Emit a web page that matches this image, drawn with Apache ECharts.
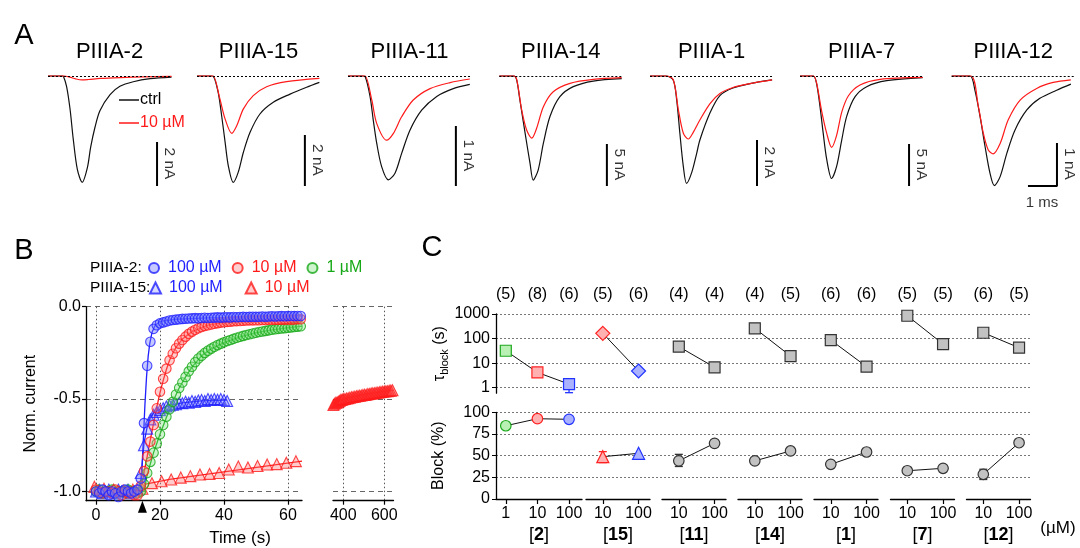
<!DOCTYPE html>
<html><head><meta charset="utf-8">
<script src="https://cdn.jsdelivr.net/npm/echarts@6/dist/echarts.min.js"></script>
<style>html,body{margin:0;padding:0;background:#fff}#c{width:1080px;height:548px}</style>
</head><body><div id="c"></div>
<script>
// ================= DATA =================
// Panel A: current traces, [time (ms), current (nA)]
const aTitles = ['PIIIA-2','PIIIA-15','PIIIA-11','PIIIA-14','PIIIA-1','PIIIA-7','PIIIA-12'];
const aScaleNA = [2,2,1,5,2,5,1];
const aScaleMs = 1;
const ctrl1 = [[0,0],[0.5,0],[0.53,-0.01],[0.64,-0.47],[0.76,-1.5],[0.87,-2.86],[1.01,-4.23],[1.18,-4.83],[1.36,-4.15],[1.47,-3.24],[1.62,-2.33],[1.79,-1.58],[2.14,-0.85],[2.48,-0.47],[2.94,-0.26],[3.52,-0.12],[4.26,-0.05]];
const blk1  = [[0,0],[0.55,0],[0.75,-0.05],[0.95,-0.13],[1.17,-0.18],[1.4,-0.16],[1.8,-0.11],[2.5,-0.07],[3.3,-0.04],[4.26,-0.02]];
const ctrl2 = [[0,0],[0.5,0],[0.56,-0.01],[0.73,-0.64],[0.85,-1.56],[0.97,-2.6],[1.08,-3.52],[1.25,-4.17],[1.42,-3.78],[1.6,-2.99],[1.83,-2.21],[2.17,-1.49],[2.63,-1.03],[3.21,-0.71],[3.78,-0.44],[4.22,-0.25]];
const blk2  = [[0,0],[0.5,0],[0.56,0],[0.79,-0.9],[0.97,-1.69],[1.2,-2.25],[1.37,-1.95],[1.6,-1.29],[1.94,-0.77],[2.4,-0.42],[3.09,-0.22],[4.22,-0.09]];
const ctrl3 = [[0,0],[0.5,0],[0.59,-0.01],[0.76,-0.34],[0.87,-0.73],[0.99,-1.12],[1.16,-1.51],[1.39,-1.73],[1.62,-1.62],[1.85,-1.29],[2.14,-0.9],[2.54,-0.57],[3.06,-0.34],[3.63,-0.21],[4.2,-0.14]];
const blk3  = [[0,0],[0.5,0],[0.59,0],[0.82,-0.4],[0.99,-0.79],[1.33,-1.07],[1.56,-0.96],[1.85,-0.68],[2.25,-0.4],[2.83,-0.21],[3.52,-0.11],[4.2,-0.05]];
const ctrl4 = [[0,0],[0.5,0],[0.6,-0.48],[0.71,-2.86],[0.89,-6.8],[1.06,-10.4],[1.17,-12.4],[1.34,-11.2],[1.52,-8.0],[1.75,-4.8],[2.09,-2.46],[2.55,-1.27],[3.24,-0.6],[4.22,-0.32]];
const blk4  = [[0,0],[0.5,0],[0.6,-0.4],[0.77,-4.0],[0.94,-6.4],[1.12,-7.4],[1.29,-6.2],[1.52,-3.65],[1.86,-1.87],[2.44,-0.87],[3.24,-0.4],[4.22,-0.2]];
const ctrl5 = [[0,0],[0.55,0],[0.8,-0.17],[0.92,-1.04],[1.03,-2.49],[1.15,-3.94],[1.26,-4.67],[1.44,-4.19],[1.61,-3.36],[1.72,-2.78],[2.07,-1.6],[2.41,-0.85],[2.86,-0.52],[3.45,-0.33],[4.21,-0.17]];
const blk5  = [[0,0],[0.55,0],[0.8,-0.15],[0.98,-1.48],[1.15,-2.49],[1.32,-2.74],[1.49,-2.45],[1.72,-1.91],[2.07,-1.2],[2.41,-0.76],[2.86,-0.5],[3.45,-0.33],[4.21,-0.17]];
const ctrl6 = [[0,0],[0.46,0],[0.57,-0.87],[0.69,-3.65],[0.8,-6.8],[0.92,-9.9],[1.09,-12.2],[1.26,-10.8],[1.44,-7.6],[1.61,-4.8],[1.9,-2.46],[2.3,-1.27],[2.99,-0.56],[4.23,-0.2]];
const blk6  = [[0,0],[0.46,0],[0.57,-0.8],[0.74,-4.05],[0.92,-6.8],[1.09,-8.5],[1.26,-7.1],[1.44,-4.3],[1.67,-2.35],[2.07,-1.07],[2.76,-0.4],[4.23,-0.17]];
const ctrl7 = [[0,0],[0.63,0],[0.8,-0.33],[0.98,-0.95],[1.15,-1.64],[1.32,-2.26],[1.47,-2.55],[1.67,-2.34],[1.9,-1.8],[2.18,-1.26],[2.59,-0.79],[3.04,-0.52],[3.62,-0.33],[4.11,-0.19]];
const blk7  = [[0,0],[0.66,0],[0.92,-0.71],[1.09,-1.33],[1.26,-1.72],[1.43,-1.81],[1.67,-1.57],[1.95,-1.02],[2.36,-0.56],[2.93,-0.29],[3.5,-0.15],[4.11,-0.09]];

// Panel B: normalized current vs time (s)
const tSec = [0,1,2,3,4,5,6,7,8,9,10,11,12,13,14,15,16,17,18,19,20,21,22,23,24,25,26,27,28,29,30,31,32,33,34,35,36,37,38,39,40,41,42,43,44,45,46,47,48,49,50,51,52,53,54,55,56,57,58,59,60,61,62,63,64];
const p2_100 = [-1.00,-1.01,-0.99,-1.00,-1.02,-1.00,-1.01,-1.03,-1.00,-0.99,-1.00,-1.01,-1.00,-0.99,
 -0.93,-0.63,-0.32,-0.19,-0.12,-0.10,-0.09,-0.085,-0.08,-0.075,-0.072,-0.07,-0.068,-0.066,-0.065,-0.064,-0.063,-0.062,-0.063,-0.061,-0.06,-0.061,-0.06,-0.059,-0.058,-0.059,-0.058,-0.057,-0.058,-0.056,-0.057,-0.056,-0.055,-0.056,-0.055,-0.054,-0.055,-0.054,-0.053,-0.054,-0.053,-0.052,-0.053,-0.052,-0.051,-0.052,-0.051,-0.05,-0.051,-0.05,-0.05];
const p2_10 = [-0.99,-1.00,-1.01,-1.00,-1.00,-1.01,-0.99,-1.00,-1.02,-1.00,-1.01,-1.00,-1.02,-1.02,
 -0.97,-0.89,-0.81,-0.73,-0.64,-0.55,-0.46,-0.39,-0.335,-0.29,-0.255,-0.225,-0.2,-0.18,-0.162,-0.147,-0.135,-0.125,-0.117,-0.11,-0.104,-0.1,-0.096,-0.092,-0.089,-0.086,-0.084,-0.082,-0.081,-0.079,-0.078,-0.077,-0.076,-0.075,-0.074,-0.074,-0.073,-0.073,-0.072,-0.072,-0.071,-0.071,-0.07,-0.071,-0.07,-0.07,-0.069,-0.07,-0.069,-0.068,-0.068];
const p2_1 = [-1.00,-0.99,-1.01,-1.00,-1.00,-0.99,-1.01,-1.00,-1.00,-1.01,-0.99,-1.00,-1.00,-1.01,-1.00,
 -0.96,-0.90,-0.84,-0.79,-0.74,-0.69,-0.64,-0.595,-0.555,-0.515,-0.475,-0.44,-0.41,-0.38,-0.35,-0.325,-0.30,-0.28,-0.265,-0.25,-0.238,-0.227,-0.217,-0.208,-0.2,-0.193,-0.186,-0.18,-0.174,-0.168,-0.163,-0.158,-0.153,-0.149,-0.145,-0.141,-0.137,-0.134,-0.131,-0.128,-0.125,-0.122,-0.12,-0.118,-0.116,-0.114,-0.112,-0.11,-0.108,-0.106];
const p15_100 = [-1.00,-0.99,-1.01,-1.00,-0.99,-1.00,-1.01,-0.99,-1.00,-1.00,-0.99,-1.01,-1.00,-0.99,
 -0.90,-0.75,-0.66,-0.61,-0.585,-0.57,-0.56,-0.55,-0.54,-0.535,-0.53,-0.528,-0.52,-0.522,-0.515,-0.52,-0.51,-0.515,-0.508,-0.505,-0.51,-0.50,-0.505,-0.50,-0.503,-0.50,-0.505,-0.51];
const t15_10 = [-0.5,2.5,5.5,8.5,11.5,14.5,17.5,20.5,23.5,26.5,29.5,32.5,35.5,38.5,41.5,44.5,47.5,50.5,53.5,56.5,59.5,62.5];
const p15_10 = [-0.975,-0.985,-0.99,-0.995,-0.99,-0.985,-0.955,-0.945,-0.935,-0.925,-0.917,-0.908,-0.905,-0.9,-0.881,-0.865,-0.87,-0.862,-0.854,-0.852,-0.845,-0.836];
const tLate = [352,358,364,370,376,382,388,394,400,408,416,424,432,440,448,456,464,472,480,488,496,504,512,520,528,536,544,552,560,568,576,584,592,600,608,616,624,632,640];
const p15_10late = [-0.532,-0.525,-0.52,-0.518,-0.514,-0.51,-0.505,-0.503,-0.5,-0.499,-0.497,-0.495,-0.493,-0.49,-0.489,-0.487,-0.485,-0.483,-0.482,-0.48,-0.478,-0.477,-0.476,-0.473,-0.472,-0.47,-0.469,-0.468,-0.466,-0.465,-0.463,-0.462,-0.46,-0.459,-0.458,-0.457,-0.455,-0.454,-0.452];
// fitted curves
const fit2_100 = [[-0.5,-1.0],[13.8,-1.0],[14.3,-0.9],[14.8,-0.72],[15.3,-0.53],[15.8,-0.38],[16.3,-0.27],[16.8,-0.2],[17.5,-0.14],[18.5,-0.1],[20,-0.08],[25,-0.068],[35,-0.06],[50,-0.055],[64.4,-0.05]];
const fit2_10 = [[-0.5,-1.0],[14,-1.0],[15,-0.9],[16,-0.81],[17,-0.72],[18,-0.63],[19,-0.545],[20,-0.465],[21,-0.4],[22,-0.34],[23,-0.29],[24,-0.252],[25,-0.22],[27,-0.175],[30,-0.135],[35,-0.1],[40,-0.085],[50,-0.074],[64.4,-0.069]];
const fit2_1 = [[-0.5,-1.0],[15,-1.0],[16,-0.91],[18,-0.79],[20,-0.69],[22,-0.6],[24,-0.515],[26,-0.44],[28,-0.38],[30,-0.327],[33,-0.266],[36,-0.228],[40,-0.194],[45,-0.163],[50,-0.141],[55,-0.125],[60,-0.114],[64.4,-0.105]];
const fit15_100 = [[-0.5,-1.0],[13.8,-1.0],[14.3,-0.88],[15,-0.74],[16,-0.65],[17,-0.6],[18,-0.575],[20,-0.555],[23,-0.535],[27,-0.52],[33,-0.51],[41,-0.505]];
const fit15_10 = [[-0.5,-1.0],[14.3,-1.0],[15.5,-0.96],[23,-0.935],[64.4,-0.836]];
const fit15_10late = [[350,-0.525],[400,-0.5],[500,-0.475],[645,-0.452]];
const drugOnset = 14.5;
const bYTicks = [-1,-0.5,0];
const bXTicks = [0,20,40,60];
const bXTicksLate = [400,600];

// Panel C
const groupNames = ['2','15','11','14','1','7','12'];
const groupConc = [[1,10,100],[10,100],[10,100],[10,100],[10,100],[10,100],[10,100]];
const groupN = [[5,8,6],[5,6],[4,4],[4,5],[6,6],[5,5],[6,5]];
const tauMean = [[32,4.2,1.41],[164,4.8],[47,6.8],[262,19.5],[87,7.2],[850,60],[173,42.6]];
const tauLo = [[null,null,0.63],[null,null],[null,null],[null,null],[null,null],[null,null],[null,null]];
const tauHi = [[null,null,2.2],[null,null],[null,null],[null,null],[null,null],[null,null],[null,null]];
const blockMean = [[84.5,92.6,91.9],[48.8,52.7],[44,64.2],[44,55.4],[40,54.2],[32.6,35.4],[28.5,64.9]];
const blockLo = [[null,null,null],[42,null],[37.5,null],[null,null],[null,null],[null,null],[22.5,null]];
const blockHi = [[null,null,null],[54.6,null],[51.5,null],[null,null],[null,null],[null,null],[34.3,null]];
const tauTicks = [1,10,100,1000];

// ================= STYLE / LAYOUT =================
const FONT = '"Liberation Sans", Arial, Helvetica, sans-serif';
const RED = '#ff1a1a', BLUE = '#1f1fff', GREEN = '#16a816';
const aLeft = [48,197,348,499.3,650,800,951.7];
const aPxPerNA = [22,25.5,60,8.4,23,8.4,43];
const aBarT = [3.76,3.72,3.72,3.71,3.69,3.76,3.63];
const A_TOP = 70, A_BASE = 76, A_BOTTOM = 186, A_PXMS = 29, A_TMAX = 4.27;
const ctrlTr = [ctrl1,ctrl2,ctrl3,ctrl4,ctrl5,ctrl6,ctrl7];
const blkTr = [blk1,blk2,blk3,blk4,blk5,blk6,blk7];

const grids = [], xAxes = [], yAxes = [], series = [];
function addGrid(g, x, y) { grids.push(Object.assign({outerBoundsMode:'none', containLabel:false}, g)); const i = grids.length-1; xAxes.push(Object.assign({gridIndex:i}, x)); yAxes.push(Object.assign({gridIndex:i}, y)); return i; }
const txt = (o) => Object.assign({fontFamily: FONT, color:'#000'}, o);

// ---------- Panel A ----------
for (let i = 0; i < 7; i++) {
  const s = aPxPerNA[i];
  const yMin = -(A_BOTTOM - A_BASE) / s, yMax = (A_BASE - A_TOP) / s;
  const gi = addGrid({left: aLeft[i], top: A_TOP, width: A_TMAX * A_PXMS, height: A_BOTTOM - A_TOP},
    {type:'value', min:0, max:A_TMAX, show:false},
    {type:'value', min:yMin, max:yMax, show:false});
  series.push({type:'line', name:'ctrl', xAxisIndex:gi, yAxisIndex:gi, data: ctrlTr[i], smooth:0.3, symbol:'none',
    lineStyle:{color:'#111', width:1.2}, itemStyle:{color:'#111'}, z:3, silent:true,
    markLine:{silent:true, symbol:'none', label:{show:false}, lineStyle:{color:'#000', type:[2,2], width:1}, data:[{yAxis:0}]}});
  series.push({type:'line', name:'10 µM', xAxisIndex:gi, yAxisIndex:gi, data: blkTr[i], smooth:0.3, symbol:'none',
    lineStyle:{color:RED, width:1.2}, itemStyle:{color:RED}, z:4, silent:true});
  const bt = aBarT[i];
  const barData = i === 6 ? [[bt - aScaleMs, yMin],[bt, yMin],[bt, yMin + aScaleNA[i]]] : [[bt, yMin],[bt, yMin + aScaleNA[i]]];
  series.push({type:'line', xAxisIndex:gi, yAxisIndex:gi, data: barData, symbol:'none', clip:false, silent:true,
    lineStyle:{color:'#000', width:2}});
  series.push({type:'scatter', xAxisIndex:gi, yAxisIndex:gi, data:[[bt, yMin + aScaleNA[i]/2]], symbolSize:1, silent:true,
    itemStyle:{color:'transparent'}, clip:false,
    label:{show:true, formatter: aScaleNA[i] + ' nA', position:[13,0], rotate:-90, align:'center', verticalAlign:'middle', fontSize:15.5, fontFamily:FONT, color:'#000'}});
  if (i === 6) {
    series.push({type:'scatter', xAxisIndex:gi, yAxisIndex:gi, data:[[bt - aScaleMs/2, yMin]], symbolSize:1, silent:true,
      itemStyle:{color:'transparent'}, clip:false,
      label:{show:true, formatter: aScaleMs + ' ms', position:[0,17], align:'center', verticalAlign:'middle', fontSize:15, fontFamily:FONT, color:'#000'}});
  }
}

// ---------- Panel B ----------
const bAxisLine = {show:true, onZero:false, lineStyle:{color:'#000', width:1.3}};
const bTick = (vals) => ({show:true, length:4, customValues: vals, lineStyle:{color:'#000', width:1.2}});
const bVSplit = {show:true, lineStyle:{color:'#555', type:[1.5,2.5], width:1}};
const gB1 = addGrid({left:86, top:306.7, width:216, height:194},
  {type:'value', min:-3.125, max:64.4, axisLine:bAxisLine, axisTick:bTick(bXTicks),
   axisLabel:{customValues:bXTicks, fontSize:16, fontFamily:FONT, color:'#000', margin:7},
   splitLine:bVSplit},
  {type:'value', min:-1.05, max:0, axisLine:bAxisLine, axisTick:bTick(bYTicks),
   axisLabel:{customValues:bYTicks, formatter: v => v.toFixed(1), fontSize:16, fontFamily:FONT, color:'#000', margin:5},
   splitLine:{show:true, lineStyle:{color:'#666', type:[5,4], width:1}},
   name:'Norm. current', nameLocation:'middle', nameGap:47, nameTextStyle: txt({fontSize:16})});
const gB2 = addGrid({left:333, top:306.7, width:60.5, height:194},
  {type:'value', min:350, max:645, axisLine:bAxisLine, axisTick:bTick(bXTicksLate),
   axisLabel:{customValues:bXTicksLate, fontSize:16, fontFamily:FONT, color:'#000', margin:7},
   splitLine:bVSplit},
  {type:'value', min:-1.05, max:0, axisLine:{show:false, onZero:false}, axisTick:{show:false, customValues:bYTicks}, axisLabel:{show:false},
   splitLine:{show:true, lineStyle:{color:'#666', type:[5,4], width:1}}});

const fitLine = (data, color, gi, extra) => Object.assign({type:'line', xAxisIndex:gi, yAxisIndex:gi, data, symbol:'none', silent:true,
  lineStyle:{color, width:1.3}, itemStyle:{color}, z:3}, extra || {});
series.push(fitLine(fit15_10, RED, gB1, {markPoint:{silent:true, symbol:'triangle', symbolSize:[9,12], label:{show:false},
  itemStyle:{color:'#000'}, data:[{coord:[drugOnset, -1.05], symbolOffset:[0,6]}]}}));
series.push(fitLine(fit15_100, BLUE, gB1));
series.push(fitLine(fit2_1, GREEN, gB1));
series.push(fitLine(fit2_10, RED, gB1));
series.push(fitLine(fit2_100, BLUE, gB1));
series.push(fitLine(fit15_10late, RED, gB2));
const zipT = (t, v) => v.map((y, k) => [t[k], y]);
const scat = (name, data, sym, size, color, fill, gi) => ({type:'scatter', name, xAxisIndex:gi, yAxisIndex:gi, data, symbol:sym, symbolSize:size,
  itemStyle:{color:fill, borderColor:color, borderWidth:1.1}, z:5, silent:true});
series.push(scat('PIIIA-15 10 µM', zipT(t15_10, p15_10), 'triangle', 11, RED, 'rgba(255,110,110,0.45)', gB1));
series.push(scat('PIIIA-15 100 µM', zipT(tSec, p15_100), 'triangle', 11, BLUE, 'rgba(110,120,255,0.35)', gB1));
series.push(scat('PIIIA-2 1 µM', zipT(tSec, p2_1), 'circle', 9.5, GREEN, 'rgba(120,225,120,0.45)', gB1));
series.push(scat('PIIIA-2 10 µM', zipT(tSec, p2_10), 'circle', 9.5, RED, 'rgba(255,120,120,0.45)', gB1));
series.push(scat('PIIIA-2 100 µM', zipT(tSec, p2_100), 'circle', 9.5, BLUE, 'rgba(110,120,255,0.5)', gB1));
series.push(scat('PIIIA-15 10 µM late', zipT(tLate, p15_10late), 'triangle', 11, RED, 'rgba(255,60,60,0.6)', gB2));

// ---------- Panel C ----------
const C_LEFT = 496, C_RIGHT = 1030;
const C_TOP1 = 314, C_H1 = 79.2, C_TOP2 = 412.3, C_H2 = 86.7;
const tauMin = Math.log10(0.6), tauMax = Math.log10(1000);
const cAxisLine = {show:true, onZero:false, lineStyle:{color:'#000', width:1.3}};
const cGridLine = {show:true, lineStyle:{color:'#777', type:[2,2], width:1}};
const tauTickLog = tauTicks.map(v => Math.log10(v));
addGrid({left:C_LEFT, top:C_TOP1, width:C_RIGHT-C_LEFT, height:C_H1},
  {type:'value', min:0, max:1, show:false},
  {type:'value', min:tauMin, max:tauMax, axisLine:cAxisLine, axisTick:{show:true, length:4, customValues:tauTickLog, lineStyle:{color:'#000'}},
   axisLabel:{customValues:tauTickLog, formatter: v => String(Math.round(Math.pow(10, v))), fontSize:16, fontFamily:FONT, color:'#000', margin:6},
   splitLine:cGridLine,
   name:'{t|τ}{s|block}{t| (s)}', nameLocation:'middle', nameGap:42,
   nameTextStyle:{rich:{t:{fontSize:16, fontFamily:FONT, color:'#000', lineHeight:22, verticalAlign:'middle'}, s:{fontSize:11, fontFamily:FONT, color:'#000', lineHeight:12, verticalAlign:'bottom'}}}});
addGrid({left:C_LEFT, top:C_TOP2, width:C_RIGHT-C_LEFT, height:C_H2},
  {type:'value', min:0, max:1, show:false},
  {type:'value', min:0, max:100, interval:25, axisLine:cAxisLine, axisTick:{show:true, length:4, lineStyle:{color:'#000'}},
   axisLabel:{fontSize:16, fontFamily:FONT, color:'#000', margin:6},
   splitLine:Object.assign({showMinLine:false}, cGridLine),
   name:'Block (%)', nameLocation:'middle', nameGap:49, nameTextStyle: txt({fontSize:16})});

const cGroupLeft = [496, 586, 662, 738, 814, 890.5, 966.5];
const cGroupWidth = [86, 64, 64, 64, 64, 64, 64];
const cGroupMin = [-0.31, 0.53, 0.53, 0.53, 0.53, 0.53, 0.53];
const cGroupMax = [2.41, 2.32, 2.32, 2.32, 2.32, 2.32, 2.32];
const cStyle = {
  green:{fill:'#b9f0b4', border:'#1fa81f'}, red:{fill:'#ffb0b0', border:'#ff2222'},
  blue:{fill:'#aab2ff', border:'#2233ff'}, gray:{fill:'#c2c2c2', border:'#333'}
};
function markerKey(g, c) {
  if (g === 0) return c === 1 ? 'green' : (c === 10 ? 'red' : 'blue');
  if (g === 1) return c === 10 ? 'red' : 'blue';
  return 'gray';
}
function errSeries(gi, x, lo, hi, color) {
  return {type:'custom', xAxisIndex:gi, yAxisIndex:gi, data:[[x, lo, hi]], z:3, silent:true, clip:false,
    renderItem: (params, api) => {
      const p1 = api.coord([api.value(0), api.value(1)]), p2 = api.coord([api.value(0), api.value(2)]);
      const w = 4, st = {stroke: color, lineWidth: 1.3};
      return {type:'group', children:[
        {type:'line', shape:{x1:p1[0], y1:p1[1], x2:p2[0], y2:p2[1]}, style:st},
        {type:'line', shape:{x1:p1[0]-w, y1:p1[1], x2:p1[0]+w, y2:p1[1]}, style:st},
        {type:'line', shape:{x1:p2[0]-w, y1:p2[1], x2:p2[0]+w, y2:p2[1]}, style:st}]};
    }};
}
for (let g = 0; g < 7; g++) {
  const concLog = groupConc[g].map(c => Math.log10(c));
  const nLabel = v => { const k = concLog.findIndex(c => Math.abs(c - v) < 1e-6); return k < 0 ? '' : '(' + groupN[g][k] + ')'; };
  const gTop = addGrid({left:cGroupLeft[g], top:C_TOP1, width:cGroupWidth[g], height:C_H1},
    {type:'value', min:cGroupMin[g], max:cGroupMax[g], position:'top', axisLine:{show:false, onZero:false}, axisTick:{show:false, customValues:concLog},
     axisLabel:{customValues:concLog, formatter:nLabel, fontSize:16, fontFamily:FONT, color:'#000', margin:11}, splitLine:{show:false}},
    {type:'value', min:tauMin, max:tauMax, show:false});
  const gBot = addGrid({left:cGroupLeft[g], top:C_TOP2, width:cGroupWidth[g], height:C_H2},
    {type:'value', min:cGroupMin[g], max:cGroupMax[g], axisLine:cAxisLine, axisTick:{show:true, length:5, customValues:concLog, lineStyle:{color:'#000', width:1.2}},
     axisLabel:{customValues:concLog, formatter: v => String(Math.round(Math.pow(10, v))), fontSize:16, fontFamily:FONT, color:'#000', margin:7},
     splitLine:{show:false},
     name:'{a|[}{b|' + groupNames[g] + '}{a|]}', nameLocation:'middle', nameGap:27,
     nameTextStyle:{rich:{a:{fontSize:18, fontFamily:FONT, color:'#000'}, b:{fontSize:18, fontFamily:FONT, fontWeight:'bold', color:'#000'}}}},
    {type:'value', min:0, max:100, show:false});
  const topSym = g === 1 ? 'diamond' : 'rect';
  const botSym = g === 1 ? 'triangle' : 'circle';
  series.push({type:'line', xAxisIndex:gTop, yAxisIndex:gTop, silent:true, z:5, lineStyle:{color:'#111', width:1},
    data: groupConc[g].map((c, k) => { const st = cStyle[markerKey(g, c)];
      return {value:[concLog[k], Math.log10(tauMean[g][k])], symbol:topSym, symbolSize: g === 1 ? 14 : 11,
        itemStyle:{color:st.fill, borderColor:st.border, borderWidth:1.2}}; })});
  series.push({type:'line', xAxisIndex:gBot, yAxisIndex:gBot, silent:true, z:5, lineStyle:{color:'#111', width:1},
    data: groupConc[g].map((c, k) => { const st = cStyle[markerKey(g, c)];
      return {value:[concLog[k], blockMean[g][k]], symbol:botSym, symbolSize: g === 1 ? 12 : 10.5,
        itemStyle:{color:st.fill, borderColor:st.border, borderWidth:1.2}}; })});
  groupConc[g].forEach((c, k) => {
    const col = cStyle[markerKey(g, c)].border;
    if (tauLo[g][k] != null) series.push(errSeries(gTop, concLog[k], Math.log10(tauLo[g][k]), Math.log10(tauHi[g][k]), col));
    if (blockLo[g][k] != null) series.push(errSeries(gBot, concLog[k], blockLo[g][k], blockHi[g][k], col));
  });
}

// ---------- texts ----------
const graphics = [
  {type:'text', x:24, y:36, style:{text:'A', fontSize:29, fontFamily:FONT, fill:'#000', align:'center', verticalAlign:'middle'}},
  {type:'text', x:24, y:251, style:{text:'B', fontSize:29, fontFamily:FONT, fill:'#000', align:'center', verticalAlign:'middle'}},
  {type:'text', x:432, y:248, style:{text:'C', fontSize:29, fontFamily:FONT, fill:'#000', align:'center', verticalAlign:'middle'}},
  {type:'text', x:90, y:268, style:{text:'PIIIA-2:', fontSize:15.5, fontFamily:FONT, fill:'#000', align:'left', verticalAlign:'middle'}},
  {type:'text', x:90, y:288, style:{text:'PIIIA-15:', fontSize:15.5, fontFamily:FONT, fill:'#000', align:'left', verticalAlign:'middle'}},
  {type:'text', x:240, y:538, style:{text:'Time (s)', fontSize:17, fontFamily:FONT, fill:'#000', align:'center', verticalAlign:'middle'}},
  {type:'text', x:1058, y:528, style:{text:'(µM)', fontSize:17, fontFamily:FONT, fill:'#000', align:'center', verticalAlign:'middle'}}
];
aTitles.forEach((t, i) => graphics.push({type:'text', x: aLeft[i] + 61.5, y: 52,
  style:{text:t, fontSize:22, fontFamily:FONT, fill:'#000', align:'center', verticalAlign:'middle'}}));

const stripName = n => n.replace(/^PIIIA-\d+ /, '').replace(/ late$/, '');
const option = {
  animation:false,
  backgroundColor:'#fff',
  grid: grids, xAxis: xAxes, yAxis: yAxes, series,
  graphic: graphics,
  legend: [
    {data:[{name:'ctrl', textStyle:{color:'#000'}}, {name:'10 µM', textStyle:{color:RED}}], orient:'vertical', left:119, top:92,
     icon:'rect', itemWidth:20, itemHeight:1.5, itemGap:7, padding:0, selectedMode:false,
     textStyle:{fontSize:16, fontFamily:FONT, padding:[0,0,0,-4]}},
    {data:[{name:'PIIIA-2 100 µM', textStyle:{color:BLUE}}, {name:'PIIIA-2 10 µM', textStyle:{color:RED}}, {name:'PIIIA-2 1 µM', textStyle:{color:GREEN}}],
     left:148, top:260, itemWidth:10, itemHeight:10, itemGap:10, padding:0, selectedMode:false, formatter: stripName,
     textStyle:{fontSize:16, fontFamily:FONT, padding:[0,0,0,4]}},
    {data:[{name:'PIIIA-15 100 µM', textStyle:{color:BLUE}}, {name:'PIIIA-15 10 µM', textStyle:{color:RED}}],
     left:149, top:280, itemWidth:11, itemHeight:11, itemGap:22, padding:0, selectedMode:false, formatter: stripName,
     textStyle:{fontSize:16, fontFamily:FONT, padding:[0,0,0,3]}}
  ]
};
const chart = echarts.init(document.getElementById('c'), null, {renderer:'canvas', width:1080, height:548});
chart.setOption(option);
</script>
</body></html>
